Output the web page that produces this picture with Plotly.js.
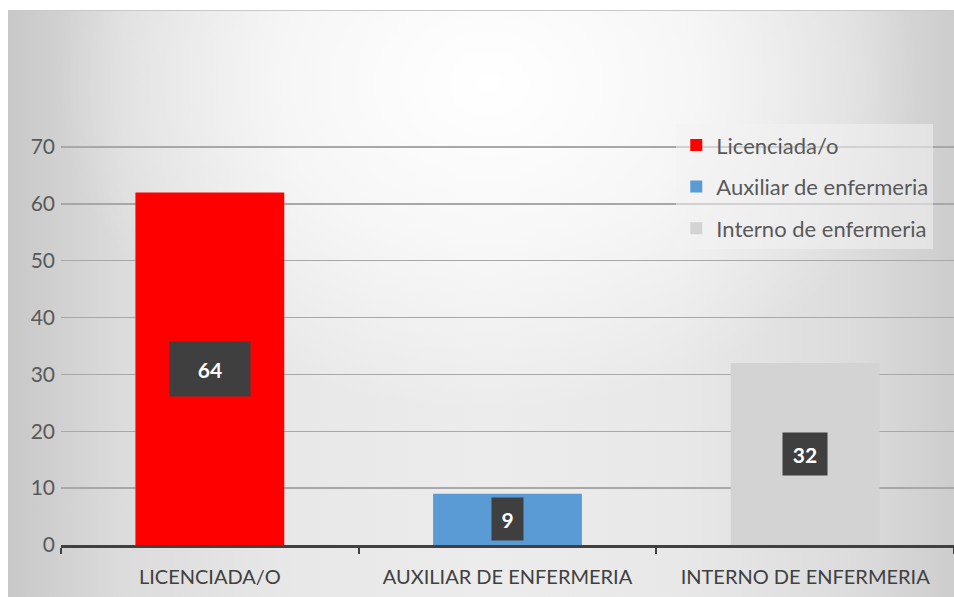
<!DOCTYPE html>
<html>
<head>
<meta charset="utf-8">
<script src="https://cdn.plot.ly/plotly-3.0.1.min.js"></script>
<style>
  html, body { margin: 0; padding: 0; background: #ffffff; width: 954px; height: 597px; overflow: hidden; }
  #bg { position: absolute; left: 8px; top: 10px; width: 960px; height: 600px;
        border-top: 1px solid #c8c8c8; border-left: 1px solid #c8c8c8;
        background:
          radial-gradient(ellipse 45% 55% at 50% 12%, rgba(255,255,255,1) 0%, rgba(255,255,255,0.6) 50%, rgba(255,255,255,0) 100%),
          linear-gradient(to right, #c8c8c8 0%, #dcdcdc 12%, #e8e8e8 30%, #ececec 50%, #e8e8e8 70%, #dcdcdc 88%, #cbcbcb 100%); }
  #chart { position: absolute; left: 0; top: 0; width: 954px; height: 597px; }
</style>
</head>
<body>
<div id="bg"></div>
<div id="chart"></div>
<script>
// Data
const categories = ["LICENCIADA/O", "AUXILIAR DE ENFERMERIA", "INTERNO DE ENFERMERIA"];
const seriesNames = ["Licenciada/o", "Auxiliar de enfermeria", "Interno de enfermeria"];
const values = [62, 9, 32];
const labels = ["64", "9", "32"];
const yTicks = [0, 10, 20, 30, 40, 50, 60, 70];

// Style
const colors = ["#ff0000", "#5b9bd5", "#d3d3d3"];
const boxW = [78, 29, 42];
const boxH = [52, 40, 40];
const FONT = "Lato, 'Open Sans', sans-serif";

const traces = categories.map((c, i) => ({
  type: "bar",
  x: [c],
  y: [values[i]],
  name: seriesNames[i],
  legendgroup: "g" + i,
  marker: { color: colors[i], line: { width: 0 } },
  hoverinfo: "skip"
}));

const annotations = categories.map((c, i) => ({
  x: c, y: values[i] / 2, xref: "x", yref: "y",
  text: "<b>" + labels[i] + "</b>",
  showarrow: false,
  bgcolor: "#3f3f3f",
  width: boxW[i], height: boxH[i],
  font: { family: FONT, size: 21, color: "#ffffff" },
  align: "center", valign: "middle"
}));

const layout = {
  width: 954, height: 597,
  margin: { l: 61, r: 0, t: 90, b: 52 },
  paper_bgcolor: "rgba(0,0,0,0)",
  plot_bgcolor: "rgba(0,0,0,0)",
  barmode: "overlay",
  bargap: 0.5,
  showlegend: true,
  legend: {
    x: 0.689, y: 0.925, xanchor: "left", yanchor: "top",
    bgcolor: "rgba(242,242,242,0.55)",
    font: { family: FONT, size: 22, color: "#595959" },
    traceorder: "grouped",
    tracegroupgap: 10,
    itemwidth: 30
  },
  xaxis: {
    type: "category",
    tickson: "boundaries",
    ticks: "outside", ticklen: 6, tickwidth: 2, tickcolor: "#404040",
    showline: true, linecolor: "#404040", linewidth: 3,
    showgrid: false,
    ticklabelstandoff: 12,
    tickfont: { family: FONT, size: 20, color: "#404040" },
    fixedrange: true
  },
  yaxis: {
    range: [0, 80],
    tickvals: yTicks,
    ticktext: yTicks.map(String),
    showgrid: true, gridcolor: "#a8a8a8", gridwidth: 1.5,
    zeroline: false, showline: false, ticks: "",
    ticklabelstandoff: 5,
    tickfont: { family: FONT, size: 21, color: "#595959" },
    fixedrange: true
  },
  annotations: annotations
};

Plotly.newPlot("chart", traces, layout, { displayModeBar: false, staticPlot: true });
</script>
</body>
</html>
